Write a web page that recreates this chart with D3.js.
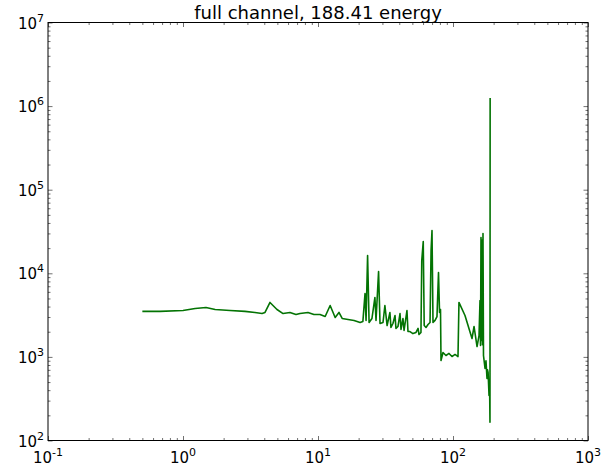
<!DOCTYPE html>
<html>
<head>
<meta charset="utf-8">
<script src="https://cdn.jsdelivr.net/npm/d3@7"></script>
<style>
  body { margin: 0; background: #fff; }
  text { font-family: "DejaVu Sans", sans-serif; fill: #000; }
</style>
</head>
<body>
<script>
// spectrum
var freq = [0.5, 0.675, 1.0, 1.23, 1.48, 1.73, 2.23, 2.88, 3.41, 3.85, 4.05, 4.41, 4.97, 5.51, 6.2, 6.87,
  7.36, 8.43, 9.33, 10.35, 11.3, 12.3, 13.4, 14.3, 15.1, 16.7, 18.5, 20.5, 21.5, 22.3, 22.7, 23.3,
  23.9, 25.1, 26.4, 26.9, 28.1, 28.8, 30.3, 31.3, 32.5, 34.1, 34.7, 35.9, 37.2, 37.8, 39.1, 40.5,
  41.2, 42.6, 43.4, 45.6, 46.4, 48.0, 50.5, 53.2, 55.1, 56.0, 57.9, 58.7, 60.2, 61.2, 63.1, 65.3,
  67.6, 68.8, 69.9, 71.1, 73.6, 76.1, 78.1, 79.5, 80.8, 81.5, 84.3, 88.7, 93.4, 98.3, 103.5, 108.9,
  110.7, 122.7, 138.3, 143.2, 150.7, 155.9, 158.5, 159.9, 161.2, 162.6, 164.0, 165.4, 166.8, 168.2,
  172.7, 175.5, 178.6, 180.2, 182.0, 184.9, 186.5, 187.9, 188.41];
var power = [3500, 3500, 3590, 3790, 3900, 3690, 3590, 3500, 3400, 3300, 3400, 4480, 3690, 3300, 3400, 3210,
  3300, 3400, 3210, 3210, 3040, 4120, 2960, 3400, 2880, 2800, 2730, 2580, 2650, 5730, 2730, 16300,
  2580, 2880, 5140, 2730, 10500, 2510, 2580, 4120, 2370, 3400, 2250, 2510, 3130, 2190, 2310, 3300,
  2130, 2880, 2070, 3590, 2010, 2010, 1900, 1960, 2190, 1850, 1960, 14200, 24000, 2370, 2250, 2440,
  2580, 18700, 32500, 2580, 2730, 3040, 10200, 3400, 3690, 906, 1130, 1040, 1100, 1010, 1070, 1010,
  4480, 3130, 1660, 2310, 1330, 1800, 4730, 1370, 26800, 1570, 24800, 1400, 29900, 1040,
  726, 900, 552, 700, 650, 345, 522, 165, 1250000];

var xDecades = [0.1, 1, 10, 100, 1000];
var yDecades = [1e2, 1e3, 1e4, 1e5, 1e6, 1e7];
var titleText = "full channel, 188.41 energy";

var W = 608, H = 467;
var margin = {top: 22.5, right: 20, bottom: 26.5, left: 48};
var width = W - margin.left - margin.right;
var height = H - margin.top - margin.bottom;

var svg = d3.select("body").append("svg")
    .attr("width", W)
    .attr("height", H);

var g = svg.append("g")
    .attr("transform", "translate(" + margin.left + "," + margin.top + ")");

var x = d3.scaleLog().domain([0.1, 1000]).range([0, width]);
var y = d3.scaleLog().domain([1e2, 1e7]).range([height, 0]);

function minors(decades) {
  var out = [];
  decades.slice(0, -1).forEach(function(d) {
    for (var k = 2; k <= 9; k++) out.push(d * k);
  });
  return out;
}

// ticks pointing inward on all four sides
function tickAxes(axisFn, scale, vals, len, tf) {
  var a = axisFn(scale).tickValues(vals).tickSize(-len).tickFormat("");
  var sel = g.append("g").attr("transform", tf).call(a);
  sel.select(".domain").remove();
  sel.selectAll("line").attr("stroke", "#333").attr("stroke-width", 0.7);
  return sel;
}

[[xDecades, 4.5], [minors(xDecades), 2.5]].forEach(function(p) {
  tickAxes(d3.axisBottom, x, p[0], p[1], "translate(0," + height + ")");
  tickAxes(d3.axisTop, x, p[0], p[1], "translate(0,0)");
});
[[yDecades, 4.5], [minors(yDecades), 2.5]].forEach(function(p) {
  tickAxes(d3.axisLeft, y, p[0], p[1], "translate(0,0)");
  tickAxes(d3.axisRight, y, p[0], p[1], "translate(" + width + ",0)");
});

var line = d3.line()
    .x(function(d, i) { return x(freq[i]); })
    .y(function(d) { return y(d); });

g.append("path")
    .datum(power)
    .attr("fill", "none")
    .attr("stroke", "#037303")
    .attr("stroke-width", 1.6)
    .attr("stroke-linejoin", "round")
    .attr("d", line);

g.append("rect")
    .attr("width", width)
    .attr("height", height)
    .attr("fill", "none")
    .attr("stroke", "#000")
    .attr("stroke-width", 1);

function expLabel(sel, v) {
  var e = Math.round(Math.log10(v));
  sel.append("tspan").text("10");
  sel.append("tspan").attr("dy", -7).attr("font-size", "11px").text(e);
}

g.selectAll(".ylab")
  .data(yDecades)
  .enter().append("text")
    .attr("class", "ylab")
    .attr("x", -4)
    .attr("y", function(d) { return y(d) + 6; })
    .attr("text-anchor", "end")
    .attr("font-size", "15px")
    .each(function(d) { expLabel(d3.select(this), d); });

g.selectAll(".xlab")
  .data(xDecades)
  .enter().append("text")
    .attr("class", "xlab")
    .attr("x", function(d) { return x(d); })
    .attr("y", height + 22)
    .attr("text-anchor", "middle")
    .attr("font-size", "15px")
    .each(function(d) { expLabel(d3.select(this), d); });

svg.append("text")
    .attr("x", margin.left + width / 2)
    .attr("y", 19)
    .attr("text-anchor", "middle")
    .attr("font-size", "18px")
    .text(titleText);
</script>
</body>
</html>
